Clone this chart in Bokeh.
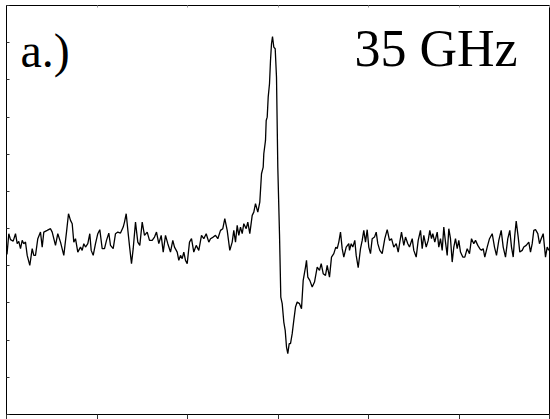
from bokeh.plotting import figure
from bokeh.models import FixedTicker, Label, LinearAxis, Range1d
from bokeh.embed import file_html
from bokeh.resources import INLINE

# Magnetic field (arbitrary channel units) and EPR derivative signal (a.u.)
field = [0.5, 2.3, 4.0, 6.7, 9.0, 10.7, 12.3, 14.0, 15.7, 17.3, 19.0, 20.7, 23.3, 25.7, 27.3, 29.0,
         31.3, 34.0, 35.7, 37.3, 40.7, 44.0, 45.7, 49.0, 51.3, 54.0, 57.3, 60.0, 62.0, 64.0, 65.7,
         67.3, 69.0, 71.3, 74.0, 75.7, 77.3, 79.0, 81.3, 83.3, 84.7, 86.7, 89.0, 91.3, 93.3, 95.7,
         98.0, 100.0, 102.3, 104.0, 106.7, 109.0, 111.3, 114.0, 116.7, 118.0, 119.7, 121.7, 123.3,
         125.0, 126.7, 129.0, 131.3, 133.3, 135.7, 138.0, 140.7, 143.0, 145.7, 148.0, 150.0, 152.3,
         154.7, 156.7, 159.0, 161.3, 164.0, 166.3, 168.0, 170.7, 172.3, 174.0, 175.7, 177.3, 179.0,
         180.7, 183.0, 185.0, 187.3, 189.7, 192.3, 195.0, 197.3, 199.7, 202.3, 204.0, 206.7, 209.0,
         211.3, 214.0, 216.3, 218.3, 220.7, 223.3, 225.7, 227.3, 229.0, 230.7, 232.3, 234.0, 235.7,
         237.3, 239.7, 241.3, 243.3, 245.7, 247.3, 249.0, 251.3, 253.3,
         255.0, 256.7, 257.3, 259.0, 259.7, 260.7, 261.7, 263.0, 264.0, 265.0, 266.0, 267.3, 268.7,
         270.0, 271.3, 273.0, 274.3, 275.7, 277.3, 278.7, 280.0, 281.3, 282.7, 284.0, 285.7, 287.3,
         289.0, 290.7, 293.0, 295.0, 296.7, 299.0, 300.0, 301.3, 303.3, 305.7, 308.0, 310.7, 313.0,
         314.7, 316.7, 319.0, 320.7, 323.0, 325.0, 327.3, 329.3, 330.7, 332.3, 334.0, 335.7, 337.3,
         339.7, 342.3,
         343.0, 344.7, 346.3, 348.3, 349.7, 351.7, 354.0, 355.7, 357.3, 359.0, 360.7, 362.3, 364.0,
         365.7, 368.0, 369.7, 371.3, 373.3, 375.7, 378.3, 380.7, 383.0, 385.0, 387.3, 389.7, 391.7,
         393.3, 395.0, 397.3, 399.0, 401.3, 403.0, 405.7, 407.3, 409.7, 411.7, 414.0, 415.7, 417.3,
         419.7, 421.7, 423.3, 425.0, 426.3, 428.3, 430.7, 432.3, 434.0, 435.7, 437.3, 439.0, 440.7,
         442.3, 444.0, 445.7, 447.3, 449.0, 450.7, 452.3, 454.0, 456.3, 458.3, 460.7, 463.0, 465.0,
         467.3, 469.0, 471.3, 473.3, 475.0, 476.7, 478.3, 480.7, 483.0, 485.7, 488.0, 490.0, 492.3,
         494.7, 496.7, 499.0, 501.3, 503.3, 505.0, 506.7, 508.3, 509.7, 511.7, 513.3, 515.7, 517.3,
         519.7, 522.3, 524.0, 525.7, 527.3, 529.0, 531.3, 533.0, 534.7, 536.7, 539.0, 540.7, 542.3]

signal = [-9.0, 11.7, 5.7, 4.3, 11.7, 1.7, 4.0, -3.3, 5.0, 1.7, 3.3, -10.0, -20.0, -3.3, -10.0, -10.0,
          6.7, 13.3, -1.7, 13.3, 15.0, 16.7, 13.3, 0.0, 11.7, 3.3, -10.0, 13.3, 31.7, 25.0, 21.7,
          3.3, 6.7, -6.7, -1.7, -5.0, 1.7, -1.7, 1.7, 11.7, -5.0, -10.0, 1.7, 11.7, 15.7, -3.3,
          -3.3, 5.0, 12.3, 0.0, -3.3, 11.7, 13.3, 12.3, 18.3, 23.3, 31.7, 11.7, -3.3,
          -18.3, -3.3, 23.3, 3.3, 0.0, 23.3, 10.0, 13.3, 5.0, 5.0, 8.3, 13.3, 1.7,
          10.0, -6.7, 10.0, 1.7, -6.7, 5.0, -1.7, -6.7, -15.0, -10.0, -13.3, -6.7, -15.0,
          -18.3, 3.3, 6.7, -6.7, 0.0, -5.0, 10.0, 6.7, 11.7, 3.3, 6.7, 8.3, 10.0,
          6.7, 15.0, 16.7, 26.7, 15.0, -5.0, 3.3, 15.0, 3.3, 20.0, 10.0, 18.3, 11.7,
          21.7, 16.7, 23.3, 11.7, 30.0, 33.3, 41.7, 33.3, 43.3,
          71.7, 78.3, 91.7, 105.0, 125.0, 128.3, 148.3, 161.7, 185.0, 201.7, 209.0, 198.3, 196.7,
          168.3, 78.3, 11.7, -51.7, -58.3, -76.7, -85.0, -101.7, -108.3, -98.3, -98.3, -88.3, -75.0,
          -61.7, -56.7, -58.3, -63.3, -35.0, -21.7, -15.0, -31.7, -35.0, -41.7, -36.7, -21.7, -25.0,
          -18.3, -28.3, -30.0, -20.0, -31.7, -11.7, -8.3, -1.7, -3.3, 3.3, 13.3, -3.3, -11.7,
          -1.7, 1.7,
          -5.0, 1.7, -1.7, 5.0, -10.0, -22.3, -3.3, 5.0, 15.0, 3.3, 15.7, -1.7, -8.3,
          6.7, 8.3, 13.3, 1.7, -5.0, -8.3, 6.7, 15.7, 5.0, 6.7, -1.7, 1.7, -6.7,
          3.3, 13.3, 0.0, 8.3, 1.7, -1.7, 6.7, -5.0, -11.7, 5.0, 15.0, -3.3, 10.0,
          -1.7, 5.0, 15.0, 6.7, 11.7, 3.3, 13.3, -1.7, 6.7, -5.0, 18.3, 3.3, -10.0,
          16.7, 6.7, -16.7, -1.7, 6.7, -3.3, 5.0, -6.7, -11.7, -11.7, -3.3, -8.3, 6.7,
          1.7, 5.0, 0.0, -3.3, -5.0, -3.3, -11.7, -1.7, 6.7, 11.7, -1.7, -10.0, 5.0,
          15.0, -1.7, -11.7, 6.7, 15.0, -1.7, -11.7, 10.0, 24.3, 8.3, -6.7, -5.0, -1.7,
          0.0, 3.3, -6.7, 1.7, 15.0, 15.7, 11.7, 1.7, 6.7, 11.7, -11.7, -1.7, -5.0]

x_ticks = [0, 90.5, 181, 271.5, 362, 452.5, 543]
y_ticks = [240, 202.8, 165.6, 128.4, 91.2, 54, 16.8, -20.4, -57.6, -94.8, -132, -169.2]

p = figure(width=550, height=419, output_backend="svg", toolbar_location=None,
           x_range=Range1d(0, 543), y_range=Range1d(-169.2, 240),
           x_axis_location=None, y_axis_location=None,
           min_border_left=6, min_border_right=1, min_border_top=5, min_border_bottom=5)
p.background_fill_color = "white"
p.border_fill_color = "white"
p.grid.visible = False
p.outline_line_color = "black"
p.outline_line_width = 1

def make_axis(ticks, tin, tout):
    ax = LinearAxis(ticker=FixedTicker(ticks=ticks))
    ax.major_label_overrides = {t: "" for t in ticks}
    ax.major_label_text_font_size = "1px"
    ax.major_label_standoff = 0
    ax.major_tick_in = tin
    ax.major_tick_out = tout
    ax.minor_tick_in = 0
    ax.minor_tick_out = 0
    ax.axis_line_color = "black"
    ax.major_tick_line_color = "#333333"
    return ax

p.add_layout(make_axis(y_ticks, 3, 0), "left")
p.add_layout(make_axis(x_ticks, 0, 5), "below")
top = make_axis(x_ticks, 2, 0)
top.major_tick_line_color = "#999999"
p.add_layout(top, "above")

p.line(field, signal, line_color="black", line_width=1.3)

p.add_layout(Label(x=14, y=168, text="a.)", text_font="Liberation Serif",
                   text_font_size="48px", text_color="black"))
p.add_layout(Label(x=348, y=168, text="35 GHz", text_font="Liberation Serif",
                   text_font_size="52px", text_color="black"))

open("out.html", "w").write(file_html(p, INLINE))
